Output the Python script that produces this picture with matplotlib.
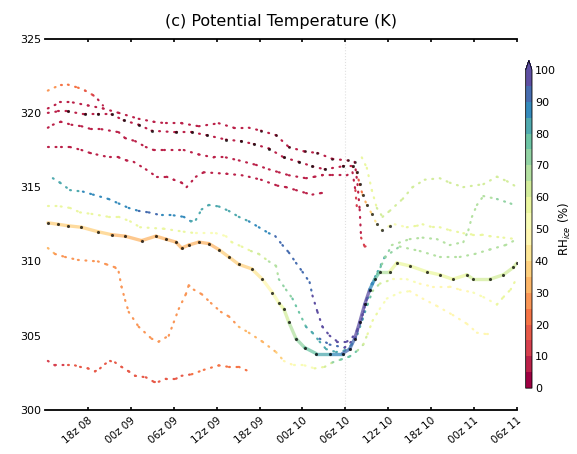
import numpy as np
import matplotlib
matplotlib.use('Agg')
import matplotlib.pyplot as plt
from matplotlib.collections import LineCollection
from matplotlib.colors import Normalize
from matplotlib.cm import ScalarMappable

# hours since 12z 08, potential temperature (K), RH over ice (%)
t1_h = [0.4, 2.2, 3.2, 4.6, 5.6, 6.7, 7.4, 8.1]
t1_th = [321.5, 321.9, 321.9, 321.7, 321.5, 321.2, 320.9, 320.5]
t1_rh = [25, 25, 24, 22, 18, 14, 10, 9]

r1_h = [0.4, 2.1, 3.9, 6.0, 8.1, 10.3, 13.1, 15.2, 16.9, 19.1, 21.5, 24.3, 26.4, 28.5,
        30.2, 32.3, 34.1, 36.3, 38.1, 40.2, 42.3, 43.3, 43.7, 44.0, 44.2, 44.7, 45.7]
r1_th = [320.3, 320.7, 320.7, 320.5, 320.3, 320.0, 319.6, 319.4, 319.3, 319.3, 319.1, 319.3,
         319.0, 319.0, 318.8, 318.5, 317.7, 317.4, 317.3, 316.9, 316.8, 316.7, 315.2, 313.5,
         311.6, 311.0, 311.1]
r1_rh = [9, 8, 8, 8, 8, 8, 8, 8, 8, 8, 8, 8, 8, 8, 8, 8, 8, 8, 8, 8, 9, 9, 9, 9, 10, 10, 10]

r2_h = [0.4, 1.8, 3.2, 5.6, 7.4, 9.3, 11.0, 13.1, 14.9, 18.3, 20.5, 22.6, 25.3, 27.4, 29.2,
        31.3, 33.4, 35.5, 37.4, 39.1, 41.6, 43.0, 43.6, 44.0, 44.4, 45.0, 45.7, 46.4, 47.1,
        48.2, 48.9, 50.6, 52.0, 52.8, 54.2, 55.2, 56.6, 58.5, 59.9, 61.1, 62.2, 64.1, 66.0]
r2_th = [320.0, 320.1, 320.1, 319.9, 319.9, 319.9, 319.5, 319.2, 318.8, 318.7, 318.7, 318.5,
         318.2, 318.1, 317.9, 317.6, 317.0, 316.7, 316.4, 316.2, 316.4, 316.4, 316.0, 315.2,
         314.5, 313.8, 313.2, 312.5, 312.1, 312.4, 312.5, 312.3, 312.4, 312.5, 312.3, 312.3,
         312.1, 311.9, 311.8, 311.8, 311.7, 311.6, 311.5]
r2_rh = [8, 8, 8, 8, 8, 8, 8, 8, 8, 8, 8, 8, 8, 8, 8, 8, 8, 8, 8, 8, 8, 8,
         12, 18, 28, 35, 40, 45, 50, 52, 54, 55, 55, 55, 56, 56, 56, 55, 55, 55, 55, 55, 55]

r3_h = [0.4, 1.1, 2.2, 3.7, 5.1, 6.5, 7.9, 10.3, 11.2, 12.6, 14.1, 15.2, 16.6, 19.4, 21.5,
        23.6, 25.3, 27.1, 29.5, 31.3, 32.7, 34.1, 36.5, 37.7, 38.8, 40.2, 42.2, 43.0, 43.4, 43.6]
r3_th = [319.0, 319.2, 319.4, 319.2, 319.1, 318.9, 318.9, 318.7, 318.3, 318.1, 317.7, 317.5,
         317.5, 317.5, 317.2, 317.0, 317.0, 316.8, 316.5, 316.2, 316.0, 315.8, 315.6, 315.7,
         315.8, 315.8, 315.8, 316.0, 314.8, 313.7]
r3_rh = [8] * 27 + [9, 10, 10]

r4_h = [0.4, 2.2, 3.5, 5.1, 6.3, 7.2, 9.1, 10.3, 11.4, 12.4, 14.1, 15.6, 17.0, 18.0, 19.1,
        19.8, 21.1, 22.2, 25.4, 27.5, 28.5, 30.2, 32.5, 33.7, 35.1, 36.5, 37.4, 38.6, 39.3]
r4_th = [317.7, 317.7, 317.7, 317.5, 317.3, 317.2, 317.0, 317.0, 316.8, 316.7, 316.2, 315.7,
         315.7, 315.5, 315.3, 315.0, 315.7, 316.0, 315.9, 315.8, 315.7, 315.5, 315.1, 315.0,
         314.8, 314.6, 314.5, 314.6, 314.6]
r4_rh = [8] * 29

b1_h = [1.1, 2.1, 3.5, 5.3, 6.7, 8.9, 10.3, 11.7, 13.1, 14.5, 16.3, 18.0, 19.4, 20.4, 21.1,
        21.9, 22.9, 24.3, 25.7, 27.1, 28.5, 29.9, 31.3, 32.2, 33.2, 34.1, 35.1, 36.0, 37.0,
        37.4, 38.1, 38.8, 39.8, 40.9, 42.2, 43.0, 43.7, 44.4, 45.0, 45.7, 46.5, 47.5, 49.6,
        52.4, 55.2, 58.0, 60.1, 62.2, 64.4, 66.0]
b1_th = [315.6, 315.3, 314.8, 314.7, 314.5, 314.2, 313.9, 313.6, 313.4, 313.3, 313.1, 313.1,
         313.0, 312.7, 312.8, 313.5, 313.8, 313.7, 313.4, 313.0, 312.7, 312.3, 311.9, 311.7,
         311.1, 310.6, 309.9, 309.3, 308.6, 307.7, 306.6, 305.6, 305.0, 304.6, 304.6, 304.9,
         305.4, 306.4, 307.5, 308.5, 309.3, 310.3, 311.0, 310.7, 310.3, 310.3, 310.5, 310.8,
         311.1, 311.5]
b1_rh = [80, 80, 82, 85, 85, 85, 87, 88, 90, 92, 90, 88, 90, 85, 82, 82, 82, 82, 82, 83,
         85, 85, 87, 90, 92, 93, 93, 94, 94, 95, 95, 95, 95, 95, 96, 97, 97, 96, 95, 90,
         85, 78, 70, 66, 65, 65, 65, 66, 66, 66]

b2_h = [0.4, 2.2, 3.5, 4.9, 6.5, 8.9, 10.3, 11.9, 13.3, 16.6, 19.4, 21.1, 23.9, 25.3, 26.1,
        27.5, 28.8, 29.9, 31.3, 32.3, 32.7, 33.7, 34.6, 35.5, 36.5, 37.4, 38.4, 39.3, 40.7,
        41.9, 42.9, 43.7, 44.4, 45.1, 45.8, 46.8, 48.6, 50.6, 52.4, 54.2, 56.6, 58.0, 59.9,
        61.3, 63.2, 64.1, 65.1, 66.0]
b2_th = [313.7, 313.7, 313.6, 313.3, 313.2, 313.0, 313.0, 312.7, 312.3, 312.2, 312.0, 311.9,
         311.9, 311.7, 311.3, 311.0, 310.7, 310.5, 310.0, 309.7, 308.8, 308.1, 307.5, 306.6,
         305.6, 305.2, 304.6, 304.1, 303.9, 304.0, 304.4, 305.1, 306.1, 307.1, 308.0, 308.5,
         308.8, 308.8, 308.5, 308.3, 308.3, 308.1, 307.9, 307.6, 307.1, 307.6, 308.1, 308.9]
b2_rh = [58, 60, 58, 57, 57, 56, 55, 55, 55, 57, 58, 55, 50, 52, 55, 58, 60, 62, 65, 68,
         70, 72, 75, 78, 80, 80, 80, 82, 82, 84, 85, 85, 82, 78, 72, 65, 55, 52, 50, 48,
         48, 48, 50, 52, 55, 55, 55, 55]

# main trajectory (drawn bold, with cloud points marked)
b3_h = [0.4, 1.8, 3.2, 5.1, 7.4, 9.3, 11.2, 13.5, 15.5, 16.9, 18.3, 19.1, 20.1, 21.5, 22.9,
        24.3, 25.7, 27.1, 28.9, 30.4, 31.8, 32.7, 33.4, 34.1, 35.1, 36.3, 37.9, 39.8, 41.6,
        42.6, 43.3, 44.0, 44.7, 45.4, 46.1, 46.8, 48.2, 49.2, 51.0, 53.4, 55.2, 57.0, 59.0,
        59.9, 62.2, 64.1, 65.5, 66.0]
b3_th = [312.6, 312.5, 312.4, 312.3, 312.0, 311.8, 311.7, 311.4, 311.7, 311.5, 311.3, 310.9,
         311.1, 311.3, 311.2, 310.8, 310.3, 309.8, 309.5, 308.8, 307.9, 307.2, 306.8, 305.9,
         304.8, 304.2, 303.8, 303.8, 303.8, 304.1, 304.8, 305.9, 307.1, 308.1, 308.8, 309.3,
         309.3, 309.9, 309.7, 309.3, 309.1, 308.8, 309.1, 308.8, 308.8, 309.1, 309.6, 309.9]
b3_rh = [40, 38, 38, 36, 35, 35, 33, 33, 33, 33, 32, 30, 32, 33, 33, 35, 35, 38, 40, 45,
         50, 55, 60, 65, 70, 75, 80, 88, 90, 92, 95, 98, 98, 92, 82, 70, 60, 58, 57, 57,
         57, 58, 60, 60, 62, 62, 63, 63]

b4_h = [0.4, 1.4, 2.8, 4.6, 7.4, 8.6, 9.8, 10.3, 10.7, 11.2, 11.7, 13.1, 14.9, 15.9, 17.3,
        18.0, 18.7, 19.7, 20.1, 20.8, 21.9, 23.2, 24.6, 25.7, 27.1, 28.5, 30.4, 32.3, 33.4,
        34.8, 36.3, 37.7, 39.1, 40.2, 41.4, 42.6, 43.7, 44.5, 45.1, 45.8, 46.8, 47.8, 49.6,
        51.0, 52.8, 54.8, 57.0, 59.0, 60.4, 61.8, 62.7]
b4_th = [310.9, 310.5, 310.3, 310.1, 310.0, 309.8, 309.6, 309.3, 308.3, 307.4, 306.6, 305.6,
         304.8, 304.6, 305.0, 305.9, 306.8, 307.8, 308.4, 308.1, 307.8, 307.2, 306.6, 306.3,
         305.6, 305.2, 304.6, 303.9, 303.3, 303.0, 303.0, 302.8, 302.9, 303.2, 303.4, 303.6,
         304.0, 304.4, 305.1, 306.0, 306.8, 307.5, 307.9, 308.0, 307.5, 307.0, 306.4, 305.8,
         305.2, 305.1, 305.1]
b4_rh = [30, 30, 28, 28, 28, 28, 27, 27, 27, 27, 26, 26, 26, 26, 26, 26, 26, 26, 26, 26,
         27, 27, 28, 28, 30, 30, 32, 35, 40, 50, 52, 55, 58, 68, 75, 78, 72, 65, 60, 58,
         55, 52, 50, 50, 48, 48, 47, 46, 46, 45, 45]

b5_h = [0.4, 1.4, 3.2, 4.2, 4.9, 6.0, 7.0, 7.7, 8.4, 9.1, 9.8, 10.7, 11.7, 12.6, 14.1, 15.2,
        15.9, 16.9, 18.3, 19.1, 20.5, 22.2, 24.3, 25.7, 27.1, 28.5]
b5_th = [303.3, 303.0, 303.0, 303.0, 302.9, 302.8, 302.6, 302.8, 303.1, 303.3, 303.2, 302.9,
         302.6, 302.3, 302.2, 301.9, 301.9, 302.1, 302.1, 302.3, 302.4, 302.7, 303.0, 302.9,
         302.9, 302.6]
b5_rh = [14, 14, 15, 15, 15, 15, 15, 15, 16, 16, 16, 16, 16, 16, 16, 16, 17, 18, 18, 18,
         20, 20, 22, 22, 22, 22]

b6_h = [38.4, 39.8, 41.9, 43.3, 44.3, 45.1, 46.0, 47.1, 48.5, 51.0, 52.8, 54.8, 56.6, 58.5,
        59.2, 59.7, 60.4, 61.3, 63.2, 65.1, 66.0]
b6_th = [304.8, 304.4, 304.2, 304.8, 306.1, 307.5, 308.7, 309.8, 311.1, 311.5, 311.6, 311.5,
         311.1, 311.3, 312.1, 313.0, 313.8, 314.4, 314.2, 313.9, 313.7]
b6_rh = [90, 92, 95, 95, 92, 88, 82, 75, 70, 68, 66, 66, 66, 68, 68, 68, 68, 68, 70, 70, 70]

l1_h = [44.3, 45.0, 45.7, 46.4, 47.2, 48.2, 50.0, 51.4, 53.1, 55.2, 56.6, 58.5, 61.3, 63.2,
        64.6, 66.0]
l1_th = [317.0, 316.3, 314.8, 313.6, 313.0, 313.4, 314.2, 315.0, 315.5, 315.6, 315.3, 315.0,
         315.2, 315.7, 315.4, 315.0]
l1_rh = [55, 55, 58, 60, 62, 62, 62, 62, 62, 62, 62, 63, 63, 64, 64, 64]

tick_hours = [6, 12, 18, 24, 30, 36, 42, 48, 54, 60, 66]
tick_labels = ['18z 08', '00z 09', '06z 09', '12z 09', '18z 09', '00z 10',
               '06z 10', '12z 10', '18z 10', '00z 11', '06z 11']

cmap = plt.get_cmap('Spectral', 20)
norm = Normalize(0, 100)


def draw_track(ax, h, th, rh, lw=1.6, ls=(0, (0.4, 3.0)), alpha=1.0, z=2):
    pts = np.column_stack([h, th])
    segs = np.stack([pts[:-1], pts[1:]], axis=1)
    rh = np.asarray(rh, dtype=float)
    lc = LineCollection(segs, cmap=cmap, norm=norm, linewidths=lw,
                        linestyles=ls, alpha=alpha, capstyle='round', zorder=z)
    lc.set_array((rh[:-1] + rh[1:]) / 2)
    ax.add_collection(lc)


fig = plt.figure(figsize=(5.77, 4.54), dpi=100)
ax = fig.add_axes([0.078, 0.097, 0.818, 0.818])

ax.axvline(42, color='0.88', lw=0.8, ls=':', zorder=1)

for h, th, rh in [(t1_h, t1_th, t1_rh), (r1_h, r1_th, r1_rh), (r3_h, r3_th, r3_rh),
                  (r4_h, r4_th, r4_rh), (r2_h, r2_th, r2_rh), (b5_h, b5_th, b5_rh),
                  (b4_h, b4_th, b4_rh), (b2_h, b2_th, b2_rh), (b1_h, b1_th, b1_rh),
                  (b6_h, b6_th, b6_rh), (l1_h, l1_th, l1_rh)]:
    draw_track(ax, h, th, rh)

# main track: solid and wide
draw_track(ax, b3_h, b3_th, b3_rh, lw=2.4, ls='solid', alpha=0.75, z=3)

# in-cloud points
ax.scatter(b3_h, b3_th, s=5, c='k', alpha=0.75, lw=0, zorder=4)
ax.scatter(r2_h[2:30], r2_th[2:30], s=5, c='k', alpha=0.7, lw=0, zorder=4)
ax.scatter(r1_h[14:22], r1_th[14:22], s=4, c='k', alpha=0.6, lw=0, zorder=4)

ax.set_xlim(0, 66)
ax.set_ylim(300, 325)
ax.set_yticks(range(300, 326, 5))
ax.set_xticks(tick_hours)
ax.set_xticklabels(tick_labels, rotation=40, ha='right', rotation_mode='anchor')
ax.tick_params(axis='x', top=True, bottom=True, direction='in', length=2.5,
               width=1.2, labelsize=7.5, pad=4)
ax.tick_params(axis='y', length=0, labelsize=8, pad=3)
for side in ['left', 'right']:
    ax.spines[side].set_visible(False)
for side in ['top', 'bottom']:
    ax.spines[side].set_linewidth(1.3)
ax.set_title('(c) Potential Temperature (K)', fontsize=11.5, pad=9)

cax = fig.add_axes([0.911, 0.145, 0.011, 0.722])
sm = ScalarMappable(norm=norm, cmap=cmap)
cb = fig.colorbar(sm, cax=cax, extend='max', extendfrac=0.03, ticks=range(0, 101, 10))
cb.set_label(r'RH$_{ice}$ (%)', fontsize=8.5, labelpad=1)
cb.ax.tick_params(labelsize=8, length=0, pad=2)
cb.outline.set_linewidth(0.6)

fig.savefig('out.png', dpi=100)
